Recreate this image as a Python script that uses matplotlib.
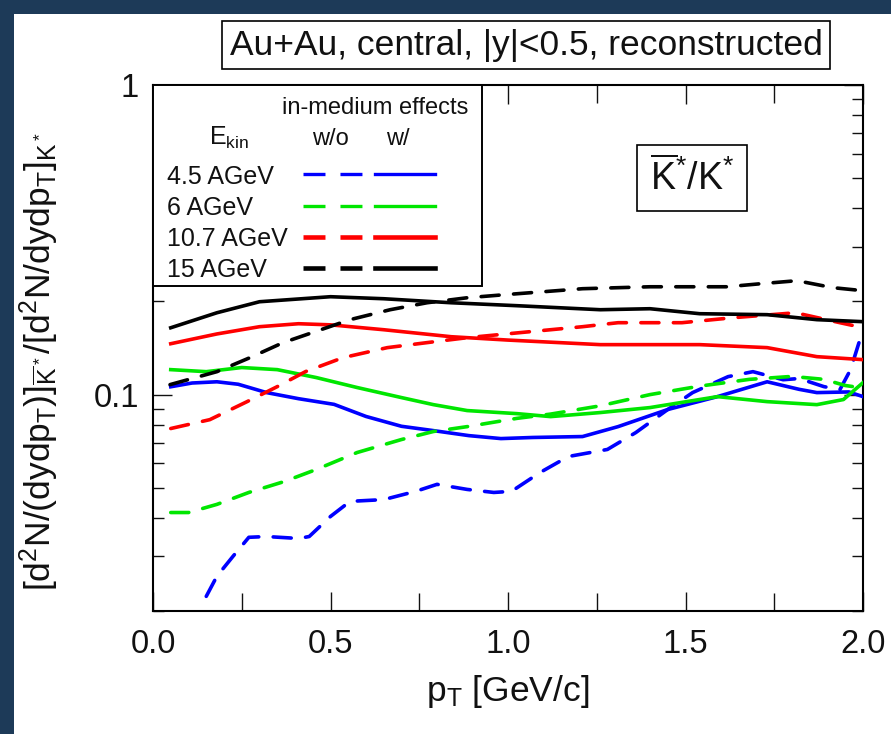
import matplotlib
matplotlib.use('Agg')
import matplotlib.pyplot as plt
from matplotlib.patches import Rectangle
from matplotlib.ticker import MultipleLocator, LogLocator, FuncFormatter, NullFormatter

plt.rcParams['font.family'] = ['Liberation Sans', 'DejaVu Sans']
plt.rcParams['mathtext.fontset'] = 'custom'
plt.rcParams['mathtext.rm'] = 'Liberation Sans'
plt.rcParams['mathtext.it'] = 'Liberation Sans'
plt.rcParams['mathtext.sf'] = 'Liberation Sans'
plt.rcParams['mathtext.bf'] = 'Liberation Sans:bold'

# energies and colours
energies = ['4.5 AGeV', '6 AGeV', '10.7 AGeV', '15 AGeV']
colors = ['#0000ff', '#00e600', '#ff0000', '#000000']

# 4.5 AGeV
x_45_w = [0.05, 0.11, 0.18, 0.24, 0.32, 0.41, 0.51, 0.60, 0.70, 0.79, 0.89, 0.98, 1.07,
          1.21, 1.31, 1.45, 1.59, 1.73, 1.82, 1.87, 1.96, 2.0]
y_45_w = [0.106, 0.109, 0.110, 0.108, 0.1015, 0.097, 0.093, 0.085, 0.079, 0.0765, 0.0737,
          0.0721, 0.0727, 0.0732, 0.0788, 0.0895, 0.0985, 0.110, 0.104, 0.1015, 0.102, 0.0985]
x_45_wo = [0.15, 0.18, 0.225, 0.27, 0.32, 0.41, 0.44, 0.50, 0.555, 0.65, 0.74, 0.80, 0.885,
           0.96, 1.01, 1.09, 1.17, 1.28, 1.36, 1.45, 1.52, 1.62, 1.69, 1.775, 1.82, 1.89,
           1.935, 1.965, 2.0]
y_45_wo = [0.0223, 0.0259, 0.030, 0.0346, 0.0348, 0.0343, 0.0348, 0.0404, 0.0452, 0.0458,
           0.0487, 0.0513, 0.0494, 0.0483, 0.0487, 0.056, 0.0631, 0.0665, 0.0754, 0.0895,
           0.1015, 0.1143, 0.1186, 0.1117, 0.1127, 0.1061, 0.1038, 0.1204, 0.162]

# 6 AGeV
x_6_w = [0.05, 0.15, 0.25, 0.35, 0.46, 0.575, 0.70, 0.79, 0.885, 1.025, 1.12, 1.26, 1.40,
         1.59, 1.73, 1.87, 1.945, 2.0]
y_6_w = [0.1204, 0.1186, 0.1223, 0.1204, 0.1135, 0.1054, 0.0978, 0.0928, 0.0888, 0.0868,
         0.0849, 0.0875, 0.0908, 0.0985, 0.0949, 0.0928, 0.0964, 0.1093]
x_6_wo = [0.05, 0.10, 0.18, 0.27, 0.37, 0.46, 0.575, 0.70, 0.79, 0.885, 1.025, 1.12, 1.26,
          1.40, 1.54, 1.68, 1.80, 1.89, 1.95, 2.0]
y_6_wo = [0.0416, 0.0416, 0.0442, 0.0483, 0.0524, 0.0573, 0.065, 0.0716, 0.076, 0.0788,
          0.0838, 0.0865, 0.092, 0.100, 0.1065, 0.112, 0.1145, 0.112, 0.107, 0.105]

# 10.7 AGeV
x_107_w = [0.05, 0.18, 0.30, 0.41, 0.50, 0.65, 0.84, 1.0, 1.26, 1.54, 1.73, 1.87, 2.0]
y_107_w = [0.146, 0.157, 0.1657, 0.1694, 0.168, 0.162, 0.1538, 0.150, 0.145, 0.145, 0.1418,
           0.1326, 0.1297]
x_107_wo = [0.05, 0.16, 0.265, 0.35, 0.43, 0.535, 0.66, 0.77, 0.885, 1.02, 1.21, 1.31, 1.49,
            1.63, 1.81, 1.935, 2.0]
y_107_wo = [0.0777, 0.083, 0.0949, 0.1061, 0.1187, 0.1316, 0.1418, 0.1471, 0.1527, 0.158,
            0.1657, 0.1707, 0.1707, 0.177, 0.1838, 0.1707, 0.1645]

# 15 AGeV
x_15_w = [0.05, 0.18, 0.30, 0.50, 0.65, 0.84, 1.03, 1.26, 1.40, 1.54, 1.73, 1.87, 2.0]
y_15_w = [0.1644, 0.1838, 0.1995, 0.2071, 0.204, 0.198, 0.1936, 0.188, 0.1894, 0.1825,
          0.1812, 0.1746, 0.172]
x_15_wo = [0.048, 0.18, 0.273, 0.366, 0.465, 0.555, 0.668, 0.772, 0.885, 0.99, 1.21, 1.40,
           1.617, 1.71, 1.814, 1.915, 2.0]
y_15_wo = [0.1077, 0.1186, 0.1316, 0.1471, 0.1609, 0.1746, 0.188, 0.198, 0.2055, 0.2102,
           0.2198, 0.223, 0.223, 0.228, 0.2333, 0.2215, 0.2166]

curves_wo = [(x_45_wo, y_45_wo), (x_6_wo, y_6_wo), (x_107_wo, y_107_wo), (x_15_wo, y_15_wo)]
curves_w = [(x_45_w, y_45_w), (x_6_w, y_6_w), (x_107_w, y_107_w), (x_15_w, y_15_w)]

LW = 2.6
DASH = (5.0, 4.0)
TXT = '#111111'


def main():
    fig = plt.figure(figsize=(8.91, 7.34), dpi=100)
    fig.patch.set_facecolor('#1d3a58')
    bg = Rectangle((14 / 891, 0), 1, 1 - 14 / 734, transform=fig.transFigure,
                   facecolor='white', edgecolor='none', zorder=-10)
    fig.add_artist(bg)

    ax = fig.add_axes([153 / 891, 1 - 611 / 734, 710 / 891, 526 / 734])
    ax.set_zorder(1)
    ax.set_yscale('log')
    ax.set_xlim(0, 2.0)
    ax.set_ylim(0.02, 1)

    for (xw, yw), (xo, yo), c in zip(curves_w, curves_wo, colors):
        ax.plot(xo, yo, color=c, lw=LW, dashes=DASH, dash_capstyle='round', zorder=3)
        ax.plot(xw, yw, color=c, lw=LW, zorder=3)

    # ticks
    ax.xaxis.set_major_locator(MultipleLocator(0.5))
    ax.xaxis.set_minor_locator(MultipleLocator(0.25))
    ax.xaxis.set_major_formatter(FuncFormatter(lambda v, p: '%.1f' % v))
    ax.yaxis.set_major_locator(LogLocator(base=10))
    ax.yaxis.set_minor_locator(LogLocator(base=10, subs=range(2, 10)))
    ax.yaxis.set_major_formatter(FuncFormatter(lambda v, p: '%g' % v))
    ax.yaxis.set_minor_formatter(NullFormatter())
    ax.tick_params(which='both', direction='in', top=True, right=True, width=1.0,
                   labelsize=23.5, colors=TXT)
    ax.tick_params(which='major', length=14)
    ax.tick_params(which='minor', length=8)
    ax.xaxis.set_tick_params(which='minor', length=13)
    ax.tick_params(axis='x', pad=13)
    ax.tick_params(axis='y', pad=10)
    for s in ax.spines.values():
        s.set_linewidth(1.5)

    ax.set_xlabel(r'$\mathrm{p_T}$ [GeV/c]', fontsize=25.5, color=TXT, labelpad=9)
    ax.set_ylabel(r'$[\mathrm{d^2N/(dydp_T)}]_{\overline{\mathrm{K}}^*}/[\mathrm{d^2N/dydp_T}]_{\mathrm{K}^*}$',
                  fontsize=25.5, color=TXT)
    ax.yaxis.set_label_coords(-0.13, 0.475)

    # title box
    fig.text(526 / 891, 1 - 45 / 734, 'Au+Au, central, |y|<0.5, reconstructed',
             fontsize=25.5, ha='center', va='center', color=TXT,
             bbox=dict(boxstyle='square,pad=0.22', fc='white', ec='black', lw=1.2))

    # ratio label
    ax.text(0.759, 0.823, r'$\overline{\mathrm{K}}^{*}/\mathrm{K}^{*}$', fontsize=27,
            ha='center', va='center', transform=ax.transAxes, color=TXT, zorder=6,
            bbox=dict(boxstyle='square,pad=0.35', fc='white', ec='black', lw=1.2))

    # legend box
    ax.add_patch(Rectangle((0, 0.618), 0.4634, 0.382, transform=ax.transAxes, fc='white',
                           ec='black', lw=1.4, zorder=5, clip_on=False))
    ax.text(0.4437, 0.956, 'in-medium effects', fontsize=17, ha='right', va='center',
            transform=ax.transAxes, zorder=6, color=TXT)
    ax.text(0.107, 0.886, r'$\mathrm{E_{kin}}$', fontsize=18, ha='center', va='baseline',
            transform=ax.transAxes, zorder=6, color=TXT)
    ax.text(0.2493, 0.886, 'w/o', fontsize=17, ha='center', va='baseline',
            transform=ax.transAxes, zorder=6, color=TXT)
    ax.text(0.345, 0.886, 'w/', fontsize=17, ha='center', va='baseline',
            transform=ax.transAxes, zorder=6, color=TXT)
    row_base = [0.8118, 0.7529, 0.6939, 0.635]
    row_line = [0.8308, 0.7700, 0.7110, 0.6521]
    leg_lw = [2.4, 2.4, 3.3, 3.3]
    for lab, c, yb, yl, lw in zip(energies, colors, row_base, row_line, leg_lw):
        ax.text(0.0197, yb, lab, fontsize=18, ha='left', va='baseline',
                transform=ax.transAxes, zorder=6, color=TXT)
        ax.plot([0.2113, 0.2944], [yl, yl], color=c, lw=lw, transform=ax.transAxes,
                dashes=(22 / 1.39 / lw, 15 / 1.39 / lw), zorder=6, clip_on=False)
        ax.plot([0.3127, 0.3972], [yl, yl], color=c, lw=lw, transform=ax.transAxes,
                zorder=6, clip_on=False)

    fig.savefig('out.png', dpi=100, facecolor=fig.get_facecolor())


if __name__ == '__main__':
    main()
